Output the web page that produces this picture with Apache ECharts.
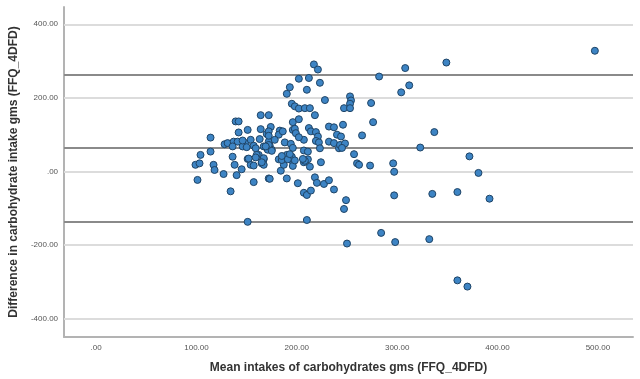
<!DOCTYPE html>
<html>
<head>
<meta charset="utf-8">
<script src="https://cdn.jsdelivr.net/npm/echarts@6/dist/echarts.min.js"></script>
<style>
html,body{margin:0;padding:0;background:#fff;}
#chart{width:640px;height:379px;}
</style>
</head>
<body>
<div id="chart"></div>
<script>
// Bland-Altman style data: [mean intake, difference]
var points = [
[497,328],[349,296],[217,291],[221,277],[308,281],[282,258],[202,252],[212,254],[223,241],[312,234],
[304,215],[193,229],[210,222],[190,211],[228,194],[253,204],[254,193],[253,184],[247,172],[253,172],
[274,186],[276,134],[195,184],[198,177],[202,171],[208,172],[213,172],[218,153],[196,134],[202,142],
[164,153],[172,153],[139,136],[142,136],[265,98],[337,107],[323,65],[151,113],[164,115],[174,121],
[170,102],[183,111],[182,100],[196,113],[198,116],[212,118],[214,109],[219,107],[221,95],[219,83],
[222,79],[232,122],[237,120],[246,127],[240,100],[244,95],[232,81],[237,77],[242,63],[114,92],
[142,106],[172,109],[199,104],[128,74],[131,77],[137,81],[141,81],[149,77],[154,86],[157,70],
[146,68],[150,66],[163,88],[159,63],[172,81],[173,70],[175,59],[167,68],[162,45],[167,33],
[165,22],[151,34],[136,40],[114,54],[104,45],[99,18],[103,22],[117,18],[118,4],[127,-7],
[140,-10],[145,6],[138,18],[154,18],[101,-23],[134,-54],[157,-29],[172,-19],[173,-20],[151,-137],
[182,33],[184,2],[190,-19],[196,27],[196,15],[201,-32],[207,-58],[210,-64],[214,-52],[210,-132],
[207,25],[211,33],[207,57],[211,54],[188,79],[194,75],[196,64],[207,86],[202,93],[218,-16],
[220,-31],[227,-34],[232,-24],[237,-49],[224,25],[213,13],[208,29],[206,34],[195,40],[190,45],
[187,18],[185,31],[185,42],[167,36],[160,45],[159,38],[157,16],[167,18],[165,25],[172,72],
[171,59],[175,56],[169,68],[249,-78],[247,-102],[250,-196],[284,-167],[298,-192],[332,-184],[257,47],
[260,22],[262,18],[273,16],[296,22],[297,-1],[297,-65],[335,-61],[360,-296],[370,-313],[360,-56],
[372,41],[381,-4],[392,-74],[243,72],[248,76],[245,64],[223,63],[146,84],[136,68],[152,35],
[198,30],[191,33],[193,47],[178,86],[172,97],[186,109]
];
var meanIntake = points.map(function(p){return p[0];});
var difference = points.map(function(p){return p[1];});

var xTicks = [0, 100, 200, 300, 400, 500];
var yTicks = [-400, -200, 0, 200, 400];
var refLines = [264, 64, -136]; // upper LoA, mean difference, lower LoA

var xTitle = 'Mean intakes of carbohydrates gms (FFQ_4DFD)';
var yTitle = 'Difference in carbohydrate intake gms (FFQ_4DFD)';

function fmt(v){ return v === 0 ? '.00' : v.toFixed(2); }

var chart = echarts.init(document.getElementById('chart'), null, {renderer:'canvas'});
var scatterData = meanIntake.map(function(x,i){ return [x, difference[i]]; });

chart.setOption({
  backgroundColor: '#ffffff',
  animation: false,
  grid: {left: 63, right: 7, top: 7, bottom: 42, containLabel: false},
  xAxis: {
    type: 'value', min: -32, max: 535,
    axisLine: {show: true, onZero: false, lineStyle: {color: '#b3b3b3', width: 2}},
    axisTick: {show: false},
    splitLine: {show: false},
    axisLabel: {customValues: xTicks, formatter: fmt, fontSize: 8, color: '#555', margin: 7, fontFamily: 'Liberation Sans'},
    name: xTitle, nameLocation: 'middle', nameGap: 25,
    nameTextStyle: {fontSize: 12, fontWeight: 'bold', color: '#333', fontFamily: 'Liberation Sans'}
  },
  yAxis: {
    type: 'value', min: -450, max: 447,
    axisLine: {show: true, onZero: false, lineStyle: {color: '#b3b3b3', width: 2}},
    axisTick: {show: false},
    splitLine: {show: false},
    axisLabel: {customValues: yTicks, formatter: fmt, fontSize: 8, color: '#555', margin: 6, fontFamily: 'Liberation Sans'},
    name: yTitle, nameLocation: 'middle', nameGap: 43,
    nameTextStyle: {fontSize: 12, fontWeight: 'bold', color: '#333', fontFamily: 'Liberation Sans'}
  },
  series: [
    {
      type: 'scatter', data: [], z: 1, silent: true,
      markLine: {
        silent: true, symbol: 'none', label: {show: false},
        lineStyle: {type: 'solid', color: '#dcdcdc', width: 2},
        data: yTicks.map(function(v){ return {yAxis: v}; })
      }
    },
    {
      type: 'scatter', data: [], z: 2, silent: true,
      markLine: {
        silent: true, symbol: 'none', label: {show: false},
        lineStyle: {type: 'solid', color: '#8a8a8a', width: 2},
        data: refLines.map(function(v){ return {yAxis: v}; })
      }
    },
    {
      type: 'scatter', z: 5,
      data: scatterData,
      symbol: 'circle', symbolSize: 7,
      itemStyle: {color: '#3d84c4', borderColor: '#1f4466', borderWidth: 1, opacity: 1}
    }
  ]
});
</script>
</body>
</html>
